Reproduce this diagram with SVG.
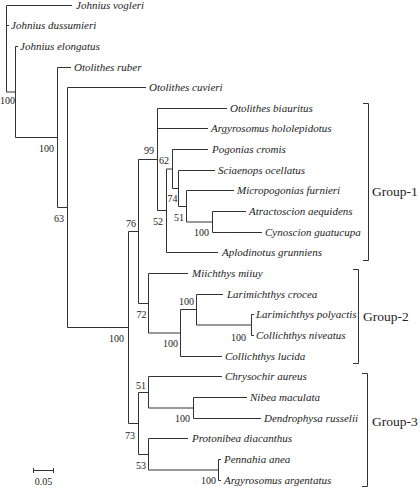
<svg xmlns="http://www.w3.org/2000/svg" width="420" height="488" viewBox="0 0 420 488">
<style>
.br{fill:none;stroke:#333;stroke-width:1}
.leaf{font-family:"Liberation Serif","Times New Roman",serif;font-style:italic;font-size:11px;fill:#222}
.bs{font-family:"Liberation Serif","Times New Roman",serif;font-size:10px;fill:#222;text-anchor:end}
.grp{font-family:"Liberation Serif","Times New Roman",serif;font-size:13.5px;fill:#222}
</style>
<rect width="420" height="488" fill="#fff"/>
<g id="connectors" class="br">
<!-- root -->
<path d="M6.5 5.5V92M6.5 5.5H72M6.5 25.5H9M6.5 92H15.5"/>
<!-- N1 -->
<path d="M15.5 46.5V137.5M15.5 46.5H18M15.5 137.5H57.5"/>
<!-- N2 -->
<path d="M57.5 67.5V207.5M57.5 67.5H71M57.5 207.5H67.5"/>
<!-- N3 -->
<path d="M67.5 87.5V327.5M67.5 87.5H146M67.5 327.5H128.5"/>
<!-- N4 -->
<path d="M128.5 231.5V423.5M128.5 231.5H138.5M128.5 423.5H138.5"/>
<!-- N5 -->
<path d="M138.5 159.5V303.5M138.5 159.5H157.5M138.5 303.5H148.5"/>
<!-- A -->
<path d="M157.5 108.5V210.5M157.5 108.5H227M157.5 128.5H208M157.5 210.5H166.5"/>
<!-- B -->
<path d="M166.5 169V252.5M166.5 169H172.5M166.5 252.5H218"/>
<!-- C -->
<path d="M172.5 149.5V188.5M172.5 149.5H208M172.5 188.5H178.5"/>
<!-- D -->
<path d="M178.5 170.5V206.5M178.5 170.5H215M178.5 206.5H186.5"/>
<!-- E -->
<path d="M186.5 190.5V222M186.5 190.5H234M186.5 222H212.5"/>
<!-- F -->
<path d="M212.5 211.5V232.5M212.5 211.5H246M212.5 232.5H262"/>
<!-- G -->
<path d="M148.5 273.5V333M148.5 273.5H188M148.5 333H180.5"/>
<!-- H -->
<path d="M180.5 309.5V356.5M180.5 309.5H196.5M180.5 356.5H222"/>
<!-- I -->
<path d="M196.5 294.5V325M196.5 294.5H223M196.5 325H251.5"/>
<!-- J -->
<path d="M251.5 314.5V335.5M251.5 314.5H254M251.5 335.5H254"/>
<!-- K -->
<path d="M138.5 392.5V454.5M138.5 392.5H148.5M138.5 454.5H148.5"/>
<!-- L -->
<path d="M148.5 376.5V408M148.5 376.5H222M148.5 408H193.5"/>
<!-- M -->
<path d="M193.5 397.5V418.5M193.5 397.5H247M193.5 418.5H261"/>
<!-- N -->
<path d="M148.5 438.5V470M148.5 438.5H188M148.5 470H218.5"/>
<!-- O -->
<path d="M218.5 459.5V480.5M218.5 459.5H221M218.5 480.5H221"/>
</g>
<g id="leaves" class="leaf">
<g id="leaf-johnius-vogleri"><text x="76" y="9">Johnius vogleri</text></g>
<g id="leaf-johnius-dussumieri"><text x="11" y="29">Johnius dussumieri</text></g>
<g id="leaf-johnius-elongatus"><text x="20" y="50">Johnius elongatus</text></g>
<g id="leaf-otolithes-ruber"><text x="74" y="71">Otolithes ruber</text></g>
<g id="leaf-otolithes-cuvieri"><text x="149" y="91">Otolithes cuvieri</text></g>
<g id="leaf-otolithes-biauritus"><text x="230" y="112">Otolithes biauritus</text></g>
<g id="leaf-argyrosomus-hololepidotus"><text x="211" y="132">Argyrosomus hololepidotus</text></g>
<g id="leaf-pogonias-cromis"><text x="212" y="153">Pogonias cromis</text></g>
<g id="leaf-sciaenops-ocellatus"><text x="218" y="174">Sciaenops ocellatus</text></g>
<g id="leaf-micropogonias-furnieri"><text x="237" y="194">Micropogonias furnieri</text></g>
<g id="leaf-atractoscion-aequidens"><text x="249" y="215">Atractoscion aequidens</text></g>
<g id="leaf-cynoscion-guatucupa"><text x="265" y="236">Cynoscion guatucupa</text></g>
<g id="leaf-aplodinotus-grunniens"><text x="222" y="256">Aplodinotus grunniens</text></g>
<g id="leaf-miichthys-miiuy"><text x="192" y="277">Miichthys miiuy</text></g>
<g id="leaf-larimichthys-crocea"><text x="227" y="298">Larimichthys crocea</text></g>
<g id="leaf-larimichthys-polyactis"><text x="256" y="318">Larimichthys polyactis</text></g>
<g id="leaf-collichthys-niveatus"><text x="256" y="339">Collichthys niveatus</text></g>
<g id="leaf-collichthys-lucida"><text x="225" y="360">Collichthys lucida</text></g>
<g id="leaf-chrysochir-aureus"><text x="225" y="380">Chrysochir aureus</text></g>
<g id="leaf-nibea-maculata"><text x="250" y="401">Nibea maculata</text></g>
<g id="leaf-dendrophysa-russelii"><text x="264" y="422">Dendrophysa russelii</text></g>
<g id="leaf-protonibea-diacanthus"><text x="192" y="442">Protonibea diacanthus</text></g>
<g id="leaf-pennahia-anea"><text x="224" y="463">Pennahia anea</text></g>
<g id="leaf-argyrosomus-argentatus"><text x="224" y="484">Argyrosomus argentatus</text></g>
</g>
<g id="support" class="bs">
<g id="node-n1"><text x="15" y="104">100</text></g>
<g id="node-n2"><text x="54" y="151.5">100</text></g>
<g id="node-n3"><text x="64" y="221.5">63</text></g>
<g id="node-n4"><text x="124" y="341.5">100</text></g>
<g id="node-n5"><text x="136" y="227">76</text></g>
<g id="node-a"><text x="154" y="154">99</text></g>
<g id="node-b"><text x="163" y="225">52</text></g>
<g id="node-c"><text x="169" y="164">62</text></g>
<g id="node-d"><text x="177.5" y="202">74</text></g>
<g id="node-e"><text x="184" y="220.5">51</text></g>
<g id="node-f"><text x="209" y="236">100</text></g>
<g id="node-g"><text x="146.5" y="317.5">72</text></g>
<g id="node-h"><text x="178" y="347">100</text></g>
<g id="node-i"><text x="194" y="305">100</text></g>
<g id="node-j"><text x="246" y="340.5">100</text></g>
<g id="node-k"><text x="135" y="438.5">73</text></g>
<g id="node-l"><text x="146" y="388.5">51</text></g>
<g id="node-m"><text x="190" y="422">100</text></g>
<g id="node-n"><text x="146" y="468.5">53</text></g>
<g id="node-o"><text x="216" y="484">100</text></g>
</g>
<g id="groups">
<g id="group-1"><path class="br" d="M363 103.5H368.5V260.5H363"/><text class="grp" x="372" y="196">Group-1</text></g>
<g id="group-2"><path class="br" d="M353 269.5H358.5V363.5H353"/><text class="grp" x="363" y="321">Group-2</text></g>
<g id="group-3"><path class="br" d="M362 373.5H367.5V486.5H362"/><text class="grp" x="372" y="426">Group-3</text></g>
</g>
<g id="scale-bar">
<path class="br" d="M33.5 470.5H53.5M33.5 468V473M53.5 468V473"/>
<text x="43.5" y="485" font-family="Liberation Serif, Times New Roman, serif" font-size="10px" fill="#222" text-anchor="middle">0.05</text>
</g>
</svg>
